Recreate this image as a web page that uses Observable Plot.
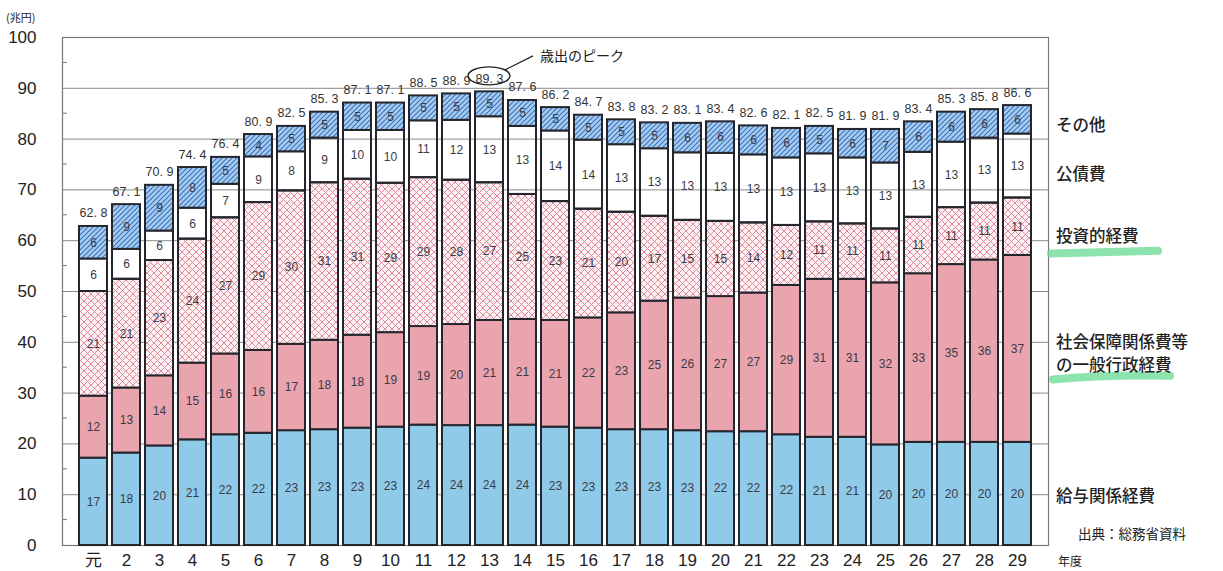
<!DOCTYPE html>
<html><head><meta charset="utf-8">
<script src="https://cdn.jsdelivr.net/npm/d3@7"></script>
<script src="https://cdn.jsdelivr.net/npm/@observablehq/plot@0.6"></script>
<style>
body{margin:0;background:#fff;}
#chart{position:relative;width:1223px;height:571px;overflow:hidden;}
</style></head><body>
<svg width="0" height="0" style="position:absolute">
<defs>
<pattern id="cross" width="7" height="7" patternUnits="userSpaceOnUse">
<rect width="7" height="7" fill="#fdf2f4"/>
<path d="M0,0L7,7M7,0L0,7" stroke="#e2889a" stroke-width="1" fill="none"/>
</pattern>
<pattern id="hatch" width="5" height="5" patternUnits="userSpaceOnUse">
<rect width="5" height="5" fill="#a9cdee"/>
<path d="M-1,1L1,-1M0,5L5,0M4,6L6,4" stroke="#3c74c2" stroke-width="1.2" fill="none"/>
</pattern>
</defs>
</svg>
<div id="chart"></div>
<script>
const years = ["元","2","3","4","5","6","7","8","9","10","11","12","13","14","15","16","17","18","19","20","21","22","23","24","25","26","27","28","29"];
const seriesNames = ["給与関係経費","社会保障関係費等の一般行政経費","投資的経費","公債費","その他"];
const salary = [17.2,18.2,19.6,20.8,21.8,22.1,22.6,22.8,23.1,23.3,23.7,23.6,23.6,23.7,23.3,23.1,22.8,22.8,22.6,22.4,22.4,21.8,21.3,21.3,19.8,20.3,20.3,20.3,20.3];
const admin  = [12.2,12.8,13.8,15.1,15.9,16.3,17.0,17.6,18.3,18.6,19.4,19.9,20.7,20.8,21.0,21.7,23.0,25.3,26.1,26.6,27.3,29.4,31.1,31.1,31.9,33.2,35.0,35.9,36.8];
const invest = [20.6,21.4,22.7,24.4,26.8,29.1,30.2,31.0,30.7,29.4,29.3,28.4,27.1,24.6,23.4,21.4,19.8,16.7,15.3,14.8,13.8,11.8,11.3,10.9,10.6,11.1,11.2,11.2,11.3];
const debt   = [6.4,5.9,5.8,6.1,6.6,9.0,7.7,8.8,9.6,10.4,11.2,11.8,13.0,13.4,13.9,13.6,13.3,13.3,13.3,13.4,13.4,13.3,13.4,13.0,13.0,12.8,12.9,12.8,12.6];
const other  = [6.4,8.8,9.0,8.0,5.3,4.4,5.0,5.1,5.4,5.4,4.9,5.2,4.9,5.1,4.6,4.9,4.9,5.1,5.8,6.2,5.7,5.8,5.4,5.6,6.6,6.0,5.9,5.6,5.6];
const totals = [62.8,67.1,70.9,74.4,76.4,80.9,82.5,85.3,87.1,87.1,88.5,88.9,89.3,87.6,86.2,84.7,83.8,83.2,83.1,83.4,82.6,82.1,82.5,81.9,81.9,83.4,85.3,85.8,86.6];
const yTicks = [0,10,20,30,40,50,60,70,80,90,100];
const minorTicks = [5,15,25,35,45,55,65,75,85,95];
const gridLines = [10,20,30,40,50,60,70,80,90];
const sideLabels = ["その他","公債費","投資的経費","社会保障関係費等","の一般行政経費","給与関係経費"];
const sourceText = "出典：総務省資料";
const unitText = "(兆円)";
const xUnitText = "年度";
const peakText = "歳出のピーク";

const seriesFills = ["#8fcae8","#eaa4ae","url(#cross)","none","url(#hatch)"];
const seriesArrays = [salary, admin, invest, debt, other];
const rows = [];
years.forEach((yr, i) => seriesArrays.forEach((arr, k) => rows.push({year: yr, series: seriesNames[k], value: arr[i]})));
const totalRows = years.map((yr, i) => ({year: yr, total: totals[i]}));
const peakIndex = totals.indexOf(d3.max(totals));

const FONT = "'Liberation Sans', Arial, 'Noto Sans CJK JP', sans-serif";
const JFONT = "'Noto Sans CJK JP', 'Noto Sans', sans-serif";
const sideLabelY = [82.9, 73.3, 61.0, 40.1, 35.6, 9.8];

function decor(index, scales, values, dimensions) {
  const ns = "http://www.w3.org/2000/svg";
  const g = document.createElementNS(ns, "g");
  g.setAttribute("text-anchor", "start");
  const mk = (tag, attrs, text) => {
    const el = document.createElementNS(ns, tag);
    for (const k in attrs) el.setAttribute(k, attrs[k]);
    if (text != null) el.textContent = text;
    g.appendChild(el);
    return el;
  };
  const {width, marginLeft, marginRight} = dimensions;
  const x0 = width - marginRight;
  for (const v of minorTicks) {
    const y = scales.y(v);
    mk("line", {x1: marginLeft, x2: marginLeft + 5, y1: y, y2: y, stroke: "#777", "stroke-width": 1});
  }
  // peak annotation
  const bw = scales.x.bandwidth ? scales.x.bandwidth() : 28;
  const cx = scales.x(years[peakIndex]) + bw / 2;
  const cy = scales.y(totals[peakIndex]) - 15.5;
  mk("ellipse", {cx: cx, cy: cy, rx: 21, ry: 9, fill: "none", stroke: "#222", "stroke-width": 1.4});
  mk("line", {x1: cx + 16, y1: cy - 6, x2: cx + 44, y2: cy - 20, stroke: "#222", "stroke-width": 1.3});
  mk("text", {x: cx + 51, y: cy - 21, "font-size": 14, "font-family": JFONT, fill: "#222", "dominant-baseline": "central", "text-anchor": "start"}, peakText);
  // green highlighter
  mk("path", {d: `M${x0 + 3},${scales.y(57.4)} L${x0 + 110},${scales.y(57.9)}`, stroke: "#6fdc98", "stroke-width": 8, "stroke-linecap": "round", opacity: 0.8, fill: "none"});
  mk("path", {d: `M${x0 + 5},${scales.y(32.6)} Q${x0 + 60},${scales.y(33.6)} ${x0 + 122},${scales.y(33.3)}`, stroke: "#6fdc98", "stroke-width": 8, "stroke-linecap": "round", opacity: 0.8, fill: "none"});
  // side labels
  sideLabels.forEach((t, i) => {
    mk("text", {x: x0 + 8, y: scales.y(sideLabelY[i]), "font-size": 16.5, "font-family": JFONT, "font-weight": 500, fill: "#222", "dominant-baseline": "central", "text-anchor": "start"}, t);
  });
  mk("text", {x: x0 + 30, y: scales.y(2.4), "font-size": 13.5, "font-family": JFONT, fill: "#222", "dominant-baseline": "central", "text-anchor": "start"}, sourceText);
  mk("text", {x: x0 + 10, y: scales.y(0) + 15, "font-size": 12, "font-family": JFONT, fill: "#222", "dominant-baseline": "central", "text-anchor": "start"}, xUnitText);
  mk("text", {x: 6, y: 17, "font-size": 11, "font-family": JFONT, fill: "#222", "dominant-baseline": "central", "text-anchor": "start"}, unitText);
  return g;
}

const chart = Plot.plot({
  width: 1223,
  height: 571,
  marginLeft: 62,
  marginRight: 175,
  marginTop: 37,
  marginBottom: 26,
  style: {fontFamily: FONT, background: "#fff"},
  x: {domain: years, paddingInner: 0.15, paddingOuter: 0.12},
  y: {domain: [0, 100]},
  color: {domain: seriesNames, range: seriesFills},
  marks: [
    Plot.ruleY(gridLines, {stroke: "#8a8a8a", strokeWidth: 1}),
    Plot.frame({stroke: "#777", strokeWidth: 1.2}),
    Plot.barY(rows, {x: "year", y: "value", z: "series", fill: "series", stroke: "#25252d", strokeWidth: 2}),
    Plot.text(rows, Plot.stackY({x: "year", y: "value", z: "series", text: d => Math.round(d.value), fill: "#3a3a48", fontSize: 12})),
    Plot.text(totalRows, {x: "year", y: "total", text: d => d.total.toFixed(1).replace(".", ". "), lineAnchor: "bottom", dy: -9, fontSize: 12.5, fill: "#333"}),
    Plot.axisY(yTicks, {tickSize: 0, tickPadding: 26, fontSize: 17, fill: "#222", label: null}),
    Plot.axisX({tickSize: 0, tickPadding: 8, fontSize: 17, fill: "#222", label: null}),
    decor
  ]
});
document.getElementById("chart").appendChild(chart);
</script>
</body></html>
